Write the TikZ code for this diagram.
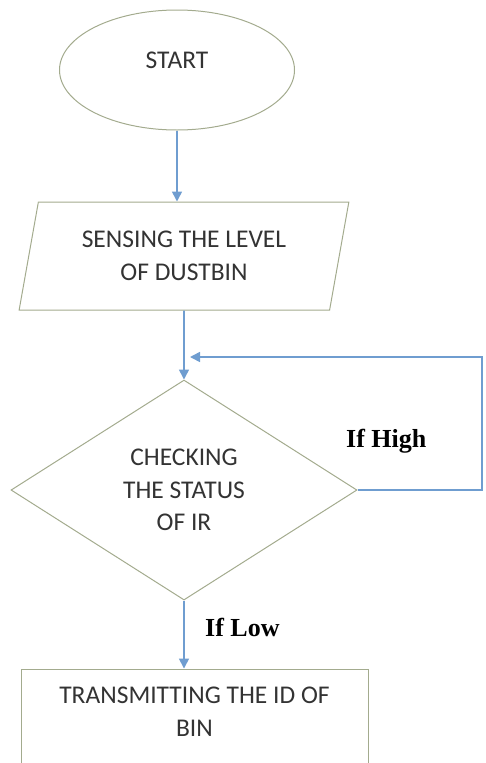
\documentclass[tikz,border=0pt]{standalone}
\usepackage{fontspec}
\usepackage{tikz}
\usetikzlibrary{arrows.meta,shapes.geometric,positioning}
\newfontfamily\boxfont{Carlito}
\newfontfamily\labelfont{Liberation Serif}
\definecolor{boxline}{HTML}{A3AB8E}
\definecolor{flowline}{HTML}{6F9DD0}
\definecolor{boxtext}{HTML}{333333}

\begin{document}
\begin{tikzpicture}[x=1pt, y=-1pt, node distance = 70pt,
	box/.style = {draw=boxline, line width=1pt, text=boxtext, align=center, font=\boxfont\fontsize{25.5}{32.5}\selectfont},
	flow/.style = {draw=flowline, line width=1.6pt, -{Triangle[length=10pt,width=10pt]}},
	cond/.style = {font=\labelfont\bfseries\fontsize{26}{30}\selectfont, inner sep=0pt, anchor=base west}]
			\clip (0,0) rectangle (485,763);
			\node (1) [box, ellipse, minimum width=235pt, minimum height=120pt, text height=16pt, text depth=20pt] at (177,70) {START};
			\node (2) [box, trapezium, trapezium left angle=76, trapezium right angle=104, trapezium stretches=true, minimum width=330pt, minimum height=108pt, below=71pt of 1, xshift=7pt] {SENSING THE LEVEL\\OF DUSTBIN};
			\node (3) [box, diamond, minimum width=346pt, minimum height=220pt, below=69pt of 2] {CHECKING\\THE STATUS\\OF IR};
			\node (4) [box, rectangle, minimum width=347pt, minimum height=128pt, below=68pt of 3, xshift=10.5pt] {TRANSMITTING THE ID OF\\BIN\\\strut};
			\node (high) [cond] at (346,447) {If High};
			\node (low) [cond] at (205,636) {If Low};
			\coordinate (turn) at (482,357);
			\coordinate (join) at (190,357);
			
			\draw[flow] (1) -- (1 |- 2.north);
			\draw[flow] (2) -- (3);
			\draw[flow] (3) -- (3 |- 4.north);
			\draw[flow] (3.east) -| (turn) -- (join);
		\end{tikzpicture}
\end{document}
